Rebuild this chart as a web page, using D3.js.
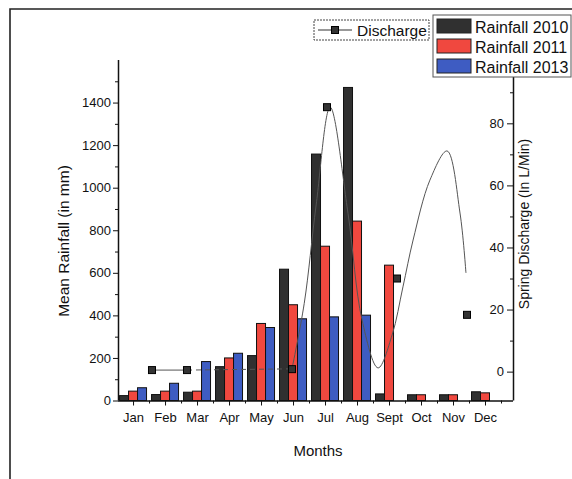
<!DOCTYPE html>
<html>
<head>
<meta charset="utf-8">
<script src="https://cdn.jsdelivr.net/npm/d3@7"></script>
<style>
  body { margin: 0; background: #fff; }
  svg { display: block; font-family: "Liberation Sans", Arial, sans-serif; }
  .axis path, .axis line { stroke: #111; }
  .axis text { fill: #111; font-size: 13px; font-family: "Liberation Sans", Arial, sans-serif; }
</style>
</head>
<body>
<script>
// data
var months = ["Jan", "Feb", "Mar", "Apr", "May", "Jun", "Jul", "Aug", "Sept", "Oct", "Nov", "Dec"];
var rain2010 = [23, 28, 39, 159, 211, 617, 1158, 1471, 31, 27, 27, 41];
var rain2011 = [44, 44, 44, 200, 362, 450, 725, 843, 636, 27, 27, 36];
var rain2013 = [60, 81, 183, 222, 343, 384, 393, 401, null, null, null, null];
var seriesNames = ["Rainfall 2010", "Rainfall 2011", "Rainfall 2013"];
var seriesColors = ["#303030", "#f0483f", "#3e5cc2"];

// discharge squares (index on the discharge axis), null = not visible
var discharge = [0.5, 0.5, null, null, 0.8, 85.2, null, 30, null, 18.3];
// traced smooth discharge line: positions (discharge index) and values
var curvePos = [0, 1, 4, 4.35, 4.69, 5.09, 5.6, 6, 6.46, 6.86, 7.17, 7.46, 7.94, 8.43, 8.8, 8.97];
var curveVal = [0.5, 0.5, 0.9, 22, 53.7, 85.2, 51, 16.7, 1.2, 11.8, 27.3, 42.4, 61.7, 71.1, 51.1, 31.8];

var W = 572, H = 479;
var svg = d3.select("body").append("svg").attr("width", W).attr("height", H);

// frame of the scanned figure
svg.append("path")
   .attr("d", "M10,479V9H572")
   .attr("fill", "none")
   .attr("stroke", "#222")
   .attr("stroke-width", 1.6);

//scales
var x = d3.scaleLinear().domain([0.53, 12.875]).range([118, 513]);
var xD = d3.scaleLinear().domain([-0.971, 10.314]).range([118, 513]);
var yL = d3.scaleLinear().domain([0, 1600]).range([400.5, 60]);
var yR = d3.scaleLinear().domain([-9.3, 100.4]).range([400.5, 60]);
var inner = d3.scaleBand().domain([0, 1, 2]).range([-13.5, 13.5]);

//bars
var rows = [];
[rain2010, rain2011, rain2013].forEach(function (arr, s) {
  arr.forEach(function (v, m) {
    if (v != null) rows.push({ s: s, m: m + 1, v: v });
  });
});
svg.append("g")
   .selectAll("rect")
   .data(rows)
   .enter()
   .append("rect")
   .attr("x", d => x(d.m) + inner(d.s))
   .attr("y", d => yL(d.v))
   .attr("width", inner.bandwidth())
   .attr("height", d => yL(0) - yL(d.v))
   .attr("fill", d => seriesColors[d.s])
   .attr("stroke", "#111")
   .attr("stroke-width", 1);

//discharge line
var trace = curvePos.map((p, i) => ({ p: p, v: curveVal[i] }));
var line = d3.line().x(d => xD(d.p)).y(d => yR(d.v));
svg.append("path")
   .datum(trace.filter(d => d.p <= 1))
   .attr("d", line)
   .attr("fill", "none").attr("stroke", "#555").attr("stroke-width", 1);
svg.append("path")
   .datum(trace.filter(d => d.p >= 1 && d.p <= 4))
   .attr("d", line)
   .attr("fill", "none").attr("stroke", "#555").attr("stroke-width", 1)
   .attr("stroke-dasharray", "5,4");
svg.append("path")
   .datum(trace.filter(d => d.p >= 4))
   .attr("d", line.curve(d3.curveCatmullRom))
   .attr("fill", "none").attr("stroke", "#555").attr("stroke-width", 1);

svg.append("g")
   .selectAll("rect")
   .data(discharge.map((v, i) => ({ i: i, v: v })).filter(d => d.v != null))
   .enter()
   .append("rect")
   .attr("x", d => xD(d.i) - 3.5)
   .attr("y", d => yR(d.v) - 3.5)
   .attr("width", 7)
   .attr("height", 7)
   .attr("fill", "#333")
   .attr("stroke", "#000")
   .attr("stroke-width", 1);

//axes
var xAxis = d3.axisBottom(x)
              .tickValues(d3.range(1, 13))
              .tickFormat(m => months[m - 1])
              .tickSize(5)
              .tickPadding(7);
svg.append("g").attr("class", "axis")
   .attr("transform", "translate(0," + yL(0) + ")")
   .call(xAxis)
   .call(g => g.select(".domain").attr("d", "M118,0.5H513").attr("stroke-width", 1.5));
svg.append("g").attr("class", "axis")
   .attr("transform", "translate(0," + yL(0) + ")")
   .call(d3.axisBottom(x).tickValues(d3.range(1.5, 12.6, 1)).tickFormat("").tickSize(3))
   .call(g => g.select(".domain").remove());

svg.append("g").attr("class", "axis")
   .attr("transform", "translate(118,0)")
   .call(d3.axisLeft(yL).tickValues(d3.range(0, 1401, 200)).tickFormat(d3.format("d")).tickSize(5).tickPadding(2))
   .call(g => g.select(".domain").attr("d", "M0.5,400.5V60").attr("stroke-width", 1.5));
svg.append("g").attr("class", "axis")
   .attr("transform", "translate(118,0)")
   .call(d3.axisLeft(yL).tickValues(d3.range(100, 1600, 200)).tickFormat("").tickSize(3))
   .call(g => g.select(".domain").remove());

svg.append("g").attr("class", "axis")
   .attr("transform", "translate(513,0)")
   .call(d3.axisLeft(yR).tickValues([0, 20, 40, 60, 80]).tickFormat(d3.format("d")).tickSize(6).tickPadding(3))
   .call(g => g.select(".domain").attr("d", "M0.5,400.5V60").attr("stroke-width", 1.5));
svg.append("g").attr("class", "axis")
   .attr("transform", "translate(513,0)")
   .call(d3.axisLeft(yR).tickValues([10, 30, 50, 70, 90]).tickFormat("").tickSize(3))
   .call(g => g.select(".domain").remove());

//axis titles
svg.append("text")
   .attr("transform", "translate(69,241) rotate(-90)")
   .attr("text-anchor", "middle")
   .style("font-size", "15.5px")
   .attr("fill", "#111")
   .text("Mean Rainfall (in mm)");
svg.append("text")
   .attr("transform", "translate(529,224) rotate(-90)")
   .attr("text-anchor", "middle")
   .style("font-size", "14px")
   .attr("fill", "#111")
   .text("Spring Discharge (In L/Min)");
svg.append("text")
   .attr("x", 318)
   .attr("y", 456)
   .attr("text-anchor", "middle")
   .style("font-size", "15px")
   .attr("fill", "#111")
   .text("Months");

//legend for discharge
var lg1 = svg.append("g").attr("transform", "translate(314,20)");
lg1.append("rect")
   .attr("width", 115).attr("height", 20)
   .attr("fill", "#fff").attr("stroke", "#444")
   .attr("stroke-dasharray", "2,1");
lg1.append("line")
   .attr("x1", 4).attr("x2", 38).attr("y1", 10).attr("y2", 10)
   .attr("stroke", "#333").attr("stroke-width", 1.2);
lg1.append("rect")
   .attr("x", 17.5).attr("y", 6.5).attr("width", 7).attr("height", 7)
   .attr("fill", "#333").attr("stroke", "#000");
lg1.append("text")
   .attr("x", 43).attr("y", 16)
   .style("font-size", "15.5px").attr("fill", "#111")
   .text("Discharge");

//legend for rainfall
var lg2 = svg.append("g").attr("transform", "translate(433,15)");
lg2.append("rect")
   .attr("width", 138).attr("height", 62)
   .attr("fill", "#fff").attr("stroke", "#555");
seriesNames.forEach(function (name, i) {
  lg2.append("rect")
     .attr("x", 4).attr("y", 4 + i * 20)
     .attr("width", 34).attr("height", 14)
     .attr("fill", seriesColors[i]).attr("stroke", "#222");
  lg2.append("text")
     .attr("x", 42).attr("y", 17.5 + i * 20)
     .style("font-size", "16px").attr("fill", "#111")
     .text(name);
});
</script>
</body>
</html>
